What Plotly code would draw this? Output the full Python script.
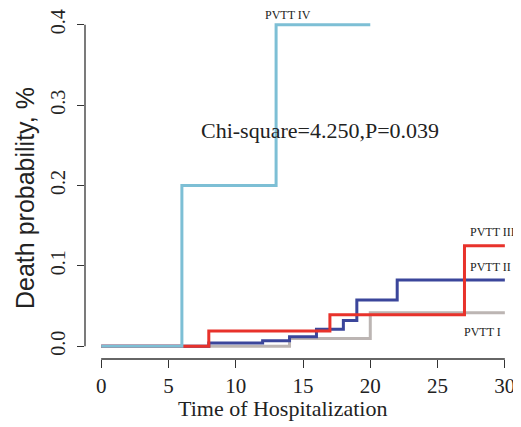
import plotly.graph_objects as go

# Step curves (x = day of change, y = cumulative death probability)
pvtt4_x = [0, 6, 13, 20]
pvtt4_y = [0.0, 0.2, 0.4, 0.4]

pvtt3_x = [0, 8, 17, 27, 30]
pvtt3_y = [0.0, 0.019, 0.039, 0.125, 0.125]

pvtt2_x = [0, 8, 12, 14, 16, 18, 19, 22, 30]
pvtt2_y = [0.0, 0.004, 0.0066, 0.0116, 0.021, 0.032, 0.0575, 0.0825, 0.0825]

pvtt1_x = [0, 14, 20, 30]
pvtt1_y = [0.0, 0.0096, 0.0415, 0.0415]

x_ticks = [0, 5, 10, 15, 20, 25, 30]
y_ticks = [0.0, 0.1, 0.2, 0.3, 0.4]
y_ticktext = ["0.0", "0.1", "0.2", "0.3", "0.4"]

SERIF = "Liberation Serif, Times New Roman, serif"
SANS = "Liberation Sans, Arial, sans-serif"
AX = "#333333"
TXT = "#222222"

fig = go.Figure()
series = [
    (pvtt1_x, pvtt1_y, "#bcb5b3", "PVTT I"),
    (pvtt2_x, pvtt2_y, "#3b469b", "PVTT II"),
    (pvtt3_x, pvtt3_y, "#e8322b", "PVTT III"),
    (pvtt4_x, pvtt4_y, "#7dbfd5", "PVTT IV"),
]
for xs, ys, col, name in series:
    fig.add_trace(go.Scatter(x=xs, y=ys, mode="lines", line=dict(color=col, width=3, shape="hv"),
                             name=name, showlegend=False, hoverinfo="skip"))

# R-style axis lines spanning the tick range
fig.add_shape(type="line", xref="x", yref="paper", x0=x_ticks[0], x1=x_ticks[-1], y0=0, y1=0,
              line=dict(color=AX, width=1.3))
fig.add_shape(type="line", xref="paper", yref="y", x0=0, x1=0, y0=y_ticks[0], y1=y_ticks[-1],
              line=dict(color=AX, width=1.3))

annos = [
    dict(x=13.9, y=0.412, text="PVTT IV", xanchor="center", size=12),
    dict(x=27.3, y=0.1425, text="PVTT III", xanchor="left", size=12),
    dict(x=27.3, y=0.099, text="PVTT II", xanchor="left", size=12),
    dict(x=26.9, y=0.0175, text="PVTT I", xanchor="left", size=12),
    dict(x=16.26, y=0.268, text="Chi-square=4.250,P=0.039", xanchor="center", size=22),
]
for a in annos:
    fig.add_annotation(x=a["x"], y=a["y"], text=a["text"], xanchor=a["xanchor"], yanchor="middle",
                       showarrow=False, borderpad=0, font=dict(family=SERIF, size=a["size"], color=TXT))

# Axis titles
fig.add_annotation(xref="paper", yref="paper", x=0.454, y=-0.142, text="Time of Hospitalization",
                   showarrow=False, xanchor="center", yanchor="middle", borderpad=0,
                   font=dict(family=SERIF, size=22, color=TXT))
fig.add_annotation(xref="paper", yref="paper", x=-0.1376, y=0.464, text="Death probability, %",
                   showarrow=False, xanchor="center", yanchor="middle", textangle=-90, borderpad=0,
                   font=dict(family=SANS, size=25, color=TXT))

# page body has an 8px margin: figure is sized/offset to compensate
fig.update_layout(
    width=513, height=419,
    margin=dict(l=77, r=0, t=4, b=68, autoexpand=False),
    paper_bgcolor="white", plot_bgcolor="white",
    xaxis=dict(range=[-1.2, 31.2], tickvals=x_ticks, ticks="outside", ticklen=8, tickwidth=1.3,
               tickcolor=AX, showgrid=False, zeroline=False, showline=False, automargin=False,
               tickfont=dict(family=SERIF, size=21, color=TXT)),
    yaxis=dict(range=[-0.016, 0.416], tickvals=y_ticks, ticktext=y_ticktext, ticks="outside", ticklen=7,
               tickwidth=1.3, tickcolor=AX, tickangle=-90, showgrid=False, zeroline=False, showline=False,
               automargin=False, ticklabelstandoff=4,
               tickfont=dict(family=SERIF, size=20, color=TXT)),
)

fig.write_html("out.html")
